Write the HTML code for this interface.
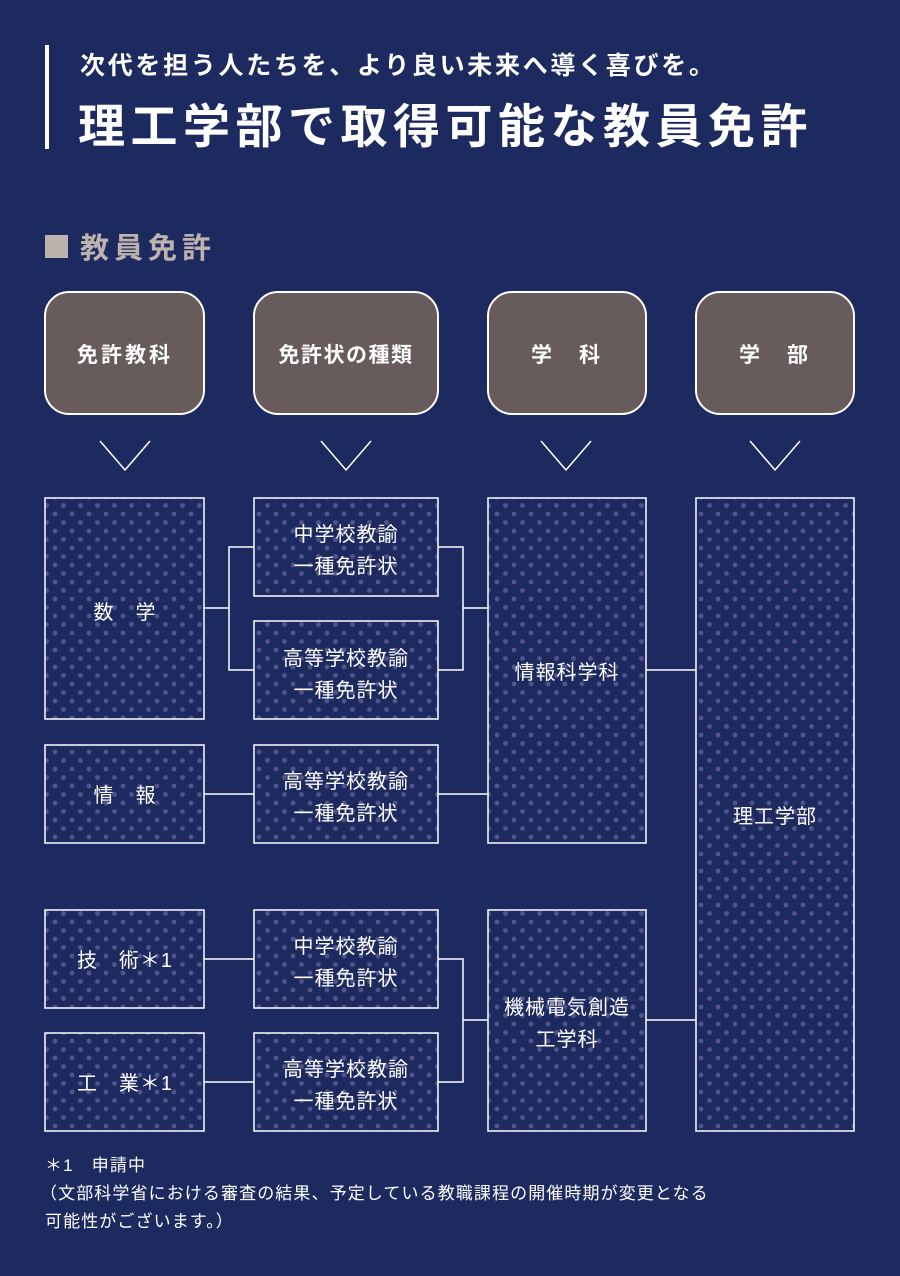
<!DOCTYPE html>
<html><head><meta charset="utf-8"><style>
html,body{margin:0;padding:0;background:#1d2a60;}
svg{display:block;}
text{font-family:"Liberation Sans","Noto Sans CJK JP",sans-serif;}
</style></head><body>
<svg width="900" height="1276" viewBox="0 0 900 1276" xmlns="http://www.w3.org/2000/svg">
<defs>
<pattern id="dots" x="0" y="0" width="17" height="17" patternUnits="userSpaceOnUse">
<circle cx="4" cy="4" r="2.4" fill="#53538c"/>
<circle cx="12.5" cy="12.5" r="2.4" fill="#53538c"/>
</pattern>
</defs>
<rect width="900" height="1276" fill="#1d2a60"/>
<rect x="45" y="45" width="4" height="104" fill="#fff"/>
<text x="80" y="74" font-size="25" font-weight="bold" fill="#fff" letter-spacing="2.7">次代を担う人たちを、より良い未来へ導く喜びを。</text>
<text x="78" y="143" font-size="47" font-weight="bold" fill="#fff" letter-spacing="5.5">理工学部で取得可能な教員免許</text>
<rect x="45" y="235" width="23" height="23" fill="#bcb3ae"/>
<text x="80" y="258" font-size="29" font-weight="bold" fill="#bcb3ae" letter-spacing="5">教員免許</text>

<g fill="#675b5c" stroke="#fff" stroke-width="2">
<rect x="45" y="292" width="159" height="122" rx="24"/>
<rect x="254" y="292" width="184" height="122" rx="24"/>
<rect x="488" y="292" width="158" height="122" rx="24"/>
<rect x="696" y="292" width="158" height="122" rx="24"/>
</g>
<g font-size="21" font-weight="bold" fill="#fff" text-anchor="middle">
<text x="125" y="362" letter-spacing="3">免許教科</text>
<text x="346" y="362" letter-spacing="1.5">免許状の種類</text>
<text x="567" y="362" xml:space="preserve" letter-spacing="3">学　科</text>
<text x="775" y="362" xml:space="preserve" letter-spacing="3">学　部</text>
</g>
<g fill="none" stroke="#fff" stroke-width="1.5">
<polyline points="100,441 125,470 150,441"/>
<polyline points="321,441 346,470 371,441"/>
<polyline points="541,441 566,470 591,441"/>
<polyline points="750,441 775,470 800,441"/>
</g>

<g fill="url(#dots)" stroke="#fff" stroke-width="1.5">
<rect x="45" y="498" width="159" height="221"/>
<rect x="254" y="498" width="184" height="98"/>
<rect x="254" y="621" width="184" height="98"/>
<rect x="45" y="745" width="159" height="98"/>
<rect x="254" y="745" width="184" height="98"/>
<rect x="488" y="498" width="158" height="345"/>
<rect x="696" y="498" width="158" height="633"/>
<rect x="45" y="910" width="159" height="98"/>
<rect x="254" y="910" width="184" height="98"/>
<rect x="45" y="1033" width="159" height="98"/>
<rect x="254" y="1033" width="184" height="98"/>
<rect x="488" y="910" width="158" height="221"/>
</g>

<g fill="none" stroke="#fff" stroke-width="1.5">
<polyline points="204,608 229,608"/>
<polyline points="254,547 229,547 229,670 254,670"/>
<polyline points="438,547 463,547 463,670 438,670"/>
<polyline points="463,608 488,608"/>
<polyline points="646,670 696,670"/>
<polyline points="204,794 254,794"/>
<polyline points="438,794 488,794"/>
<polyline points="204,959 254,959"/>
<polyline points="204,1082 254,1082"/>
<polyline points="438,959 463,959 463,1082 438,1082"/>
<polyline points="463,1020 488,1020"/>
<polyline points="646,1020 696,1020"/>
</g>

<g font-size="20" fill="#fff" text-anchor="middle" letter-spacing="1">
<text x="125" y="619" xml:space="preserve">数　学</text>
<text x="346" y="541">中学校教諭</text>
<text x="346" y="573">一種免許状</text>
<text x="346" y="665">高等学校教諭</text>
<text x="346" y="697">一種免許状</text>
<text x="125" y="802" xml:space="preserve">情　報</text>
<text x="346" y="788">高等学校教諭</text>
<text x="346" y="820">一種免許状</text>
<text x="567" y="679">情報科学科</text>
<text x="775" y="823">理工学部</text>
<text x="125" y="967" xml:space="preserve">技　術＊1</text>
<text x="346" y="953">中学校教諭</text>
<text x="346" y="985">一種免許状</text>
<text x="125" y="1090" xml:space="preserve">工　業＊1</text>
<text x="346" y="1076">高等学校教諭</text>
<text x="346" y="1108">一種免許状</text>
<text x="567" y="1014">機械電気創造</text>
<text x="567" y="1046">工学科</text>
</g>

<g font-size="17" fill="#fff" letter-spacing="1.1">
<text x="45" y="1171" xml:space="preserve">＊1　申請中</text>
<text x="40" y="1199">（文部科学省における審査の結果、予定している教職課程の開催時期が変更となる</text>
<text x="45" y="1227">可能性がございます。）</text>
</g>
</svg>
</body></html>
